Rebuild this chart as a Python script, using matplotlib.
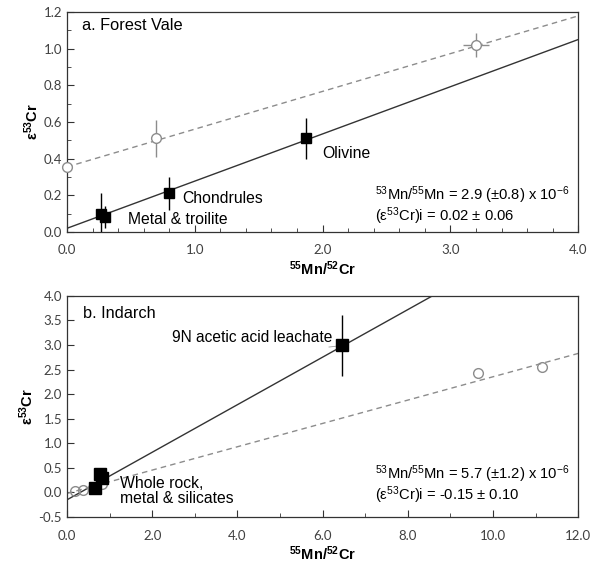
import numpy as np
import matplotlib.pyplot as plt
from matplotlib.ticker import MultipleLocator, FormatStrFormatter

plt.rcParams['font.family'] = ['Liberation Sans', 'DejaVu Sans']
plt.rcParams['mathtext.fontset'] = 'custom'
plt.rcParams['mathtext.rm'] = 'Liberation Sans'
plt.rcParams['mathtext.bf'] = 'Liberation Sans:bold'
plt.rcParams['mathtext.default'] = 'regular'

# panel a: Forest Vale
fv_x = [0.27, 0.30, 0.80, 1.87]
fv_y = [0.10, 0.08, 0.21, 0.51]
fv_yerr = [0.11, 0.06, 0.09, 0.11]
fv_open_x = [0.0, 0.70, 3.20]
fv_open_y = [0.355, 0.51, 1.02]
fv_open_xerr = [0.0, 0.0, 0.10]
fv_open_yerr = [0.0, 0.10, 0.065]
fv_fit = (0.2575, 0.02)      # slope, intercept
fv_fit_open = (0.206, 0.355)

# panel b: Indarch
ind_x = [0.65, 0.78, 0.83, 6.45]
ind_y = [0.10, 0.38, 0.30, 3.00]
ind_yerr = [0.06, 0.10, 0.06, 0.62]
ind_open_x = [0.18, 0.38, 0.60, 0.82, 9.65, 11.15]
ind_open_y = [0.02, 0.05, 0.10, 0.18, 2.43, 2.56]
ind_fit = (0.484, -0.15)
ind_fit_open = (0.2375, -0.02)

TICKC = '#404040'
GREY = '#8c8c8c'


def style_axes(ax):
    ax.tick_params(direction='in', which='both', top=False, right=False,
                   labelcolor=TICKC, labelsize=9.5, color='#333333')
    ax.tick_params(which='major', length=5)
    ax.tick_params(which='minor', length=3)
    ax.tick_params(axis='x', pad=9)
    for lbl in ax.get_xticklabels() + ax.get_yticklabels():
        lbl.set_family(['Lato', 'DejaVu Sans'])
    for s in ax.spines.values():
        s.set_color('#333333')
        s.set_linewidth(0.9)


fig = plt.figure(figsize=(5.98, 5.64), dpi=100)
ax1 = fig.add_axes([0.112, 0.5887, 0.855, 0.390])
ax2 = fig.add_axes([0.112, 0.0833, 0.855, 0.392])

# ---- panel a
xx = np.array([0, 4])
ax1.plot(xx, fv_fit[0] * xx + fv_fit[1], color='#333333', lw=1.0)
ax1.plot(xx, fv_fit_open[0] * xx + fv_fit_open[1], color=GREY, lw=1.0, ls=(0, (4, 3)))
ax1.errorbar(fv_open_x, fv_open_y, xerr=fv_open_xerr, yerr=fv_open_yerr, fmt='o',
             mfc='white', mec=GREY, ms=7, ecolor=GREY, elinewidth=1.0, capsize=0,
             clip_on=False, zorder=3)
ax1.errorbar(fv_x, fv_y, yerr=fv_yerr, fmt='s', color='black', ms=6.5,
             elinewidth=1.0, capsize=0, zorder=4)
ax1.set_xlim(0, 4)
ax1.set_ylim(0, 1.2)
ax1.xaxis.set_major_locator(MultipleLocator(1))
ax1.xaxis.set_minor_locator(MultipleLocator(0.2))
ax1.yaxis.set_major_locator(MultipleLocator(0.2))
ax1.yaxis.set_minor_locator(MultipleLocator(0.1))
ax1.xaxis.set_major_formatter(FormatStrFormatter('%.1f'))
ax1.yaxis.set_major_formatter(FormatStrFormatter('%.1f'))
ax1.text(0.12, 1.124, 'a. Forest Vale', fontsize=11.8, va='center')
ax1.text(0.90, 0.185, 'Chondrules', fontsize=11.3, va='center')
ax1.text(0.48, 0.07, 'Metal & troilite', fontsize=11.3, va='center')
ax1.text(2.0, 0.43, 'Olivine', fontsize=11.3, va='center')
ax1.text(2.41, 0.198, r'$^{53}$Mn/$^{55}$Mn = 2.9 ($\pm$0.8) x 10$^{-6}$',
         fontsize=10.6, va='center')
ax1.text(2.41, 0.088, r'($\epsilon^{53}$Cr)i = 0.02 $\pm$ 0.06', fontsize=10.6, va='center')
ax1.set_xlabel(r'$\mathbf{^{55}Mn/^{52}Cr}$', fontsize=10.5, labelpad=2)
ax1.set_ylabel(r'$\mathbf{\epsilon^{53}Cr}$', fontsize=10.5, labelpad=2)
style_axes(ax1)

# ---- panel b
xx = np.array([0, 12])
ax2.plot(xx, ind_fit[0] * xx + ind_fit[1], color='#333333', lw=1.0)
ax2.plot(xx, ind_fit_open[0] * xx + ind_fit_open[1], color=GREY, lw=1.0, ls=(0, (4, 3)))
ax2.plot(ind_open_x, ind_open_y, 'o', mfc='none', mec=GREY, ms=7, zorder=3)
ax2.errorbar(ind_x, ind_y, yerr=ind_yerr, fmt='s', color='black', ms=8,
             elinewidth=1.0, capsize=0, zorder=4)
ax2.plot([6.15, 6.35], [2.96, 2.98], color='#999999', lw=0.6)
ax2.set_xlim(0, 12)
ax2.set_ylim(-0.5, 4.0)
ax2.xaxis.set_major_locator(MultipleLocator(2))
ax2.xaxis.set_minor_locator(MultipleLocator(1))
ax2.yaxis.set_major_locator(MultipleLocator(0.5))
ax2.xaxis.set_major_formatter(FormatStrFormatter('%.1f'))
ax2.yaxis.set_major_formatter(FormatStrFormatter('%.1f'))
ax2.text(0.37, 3.65, 'b. Indarch', fontsize=11.8, va='center')
ax2.text(2.46, 3.15, '9N acetic acid leachate', fontsize=11.2, va='center')
ax2.text(1.24, 0.03, 'Whole rock,\nmetal & silicates', fontsize=11.3, va='center',
         linespacing=1.0)
ax2.text(7.23, 0.37, r'$^{53}$Mn/$^{55}$Mn = 5.7 ($\pm$1.2) x 10$^{-6}$',
         fontsize=10.6, va='center')
ax2.text(7.23, -0.06, r'($\epsilon^{53}$Cr)i = -0.15 $\pm$ 0.10', fontsize=10.6, va='center')
ax2.set_xlabel(r'$\mathbf{^{55}Mn/^{52}Cr}$', fontsize=10.5, labelpad=2)
ax2.set_ylabel(r'$\mathbf{\epsilon^{53}Cr}$', fontsize=10.5, labelpad=2)
style_axes(ax2)

fig.savefig('out.png', dpi=100)
